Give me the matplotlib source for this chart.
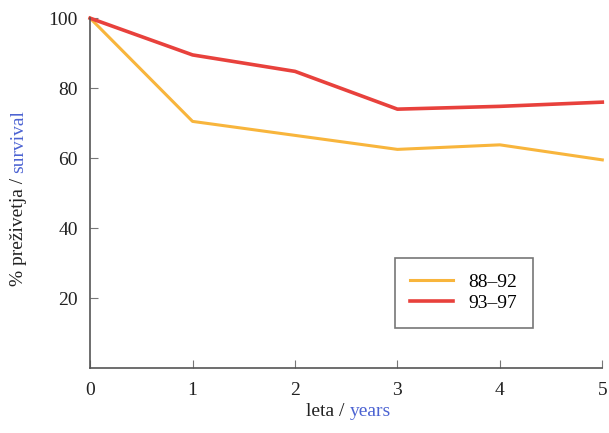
import matplotlib.pyplot as plt

plt.rcParams['font.family'] = ['Liberation Serif', 'DejaVu Serif']

leta = [0, 1, 2, 3, 4, 5]
s88_92 = [100, 70.5, 66.5, 62.5, 63.8, 59.5]
s93_97 = [100, 89.5, 84.8, 74, 74.8, 76]
serije = ['88\u201392', '93\u201397']

oranzna = '#F8B53C'
rdeca = '#E8413C'
modra = '#4C63D2'

fig = plt.figure(figsize=(6.09, 4.33), dpi=100)
ax = fig.add_axes([0.148, 0.150, 0.841, 0.808])

ax.plot(leta, s88_92, color=oranzna, lw=2.2, label=serije[0], clip_on=False)
ax.plot(leta, s93_97, color=rdeca, lw=2.6, label=serije[1], clip_on=False)

ax.set_xlim(0, 5)
ax.set_ylim(0, 100)
ax.set_xticks(leta)
ax.set_yticks([20, 40, 60, 80, 100])
ax.spines['top'].set_visible(False)
ax.spines['right'].set_visible(False)
for s in ['left', 'bottom']:
    ax.spines[s].set_color('#555555')
    ax.spines[s].set_linewidth(1.2)
ax.tick_params(direction='in', length=6, color='#777777', labelsize=14, labelcolor='#222222')
ax.tick_params(axis='y', pad=9)
ax.tick_params(axis='x', pad=10)

leg = ax.legend(loc='lower right', bbox_to_anchor=(0.865, 0.115), fontsize=14,
                fancybox=False, edgecolor='#555555', handlelength=2.2,
                borderpad=0.8, labelspacing=0.2, borderaxespad=0)
leg.get_frame().set_linewidth(1.2)

# dvobarvni napisi osi
t1 = fig.text(0.03, 0.34, '% preživetja / ', rotation=90, fontsize=14,
              color='#222222', ha='center', va='bottom')
ax.annotate('survival', xy=(0.5, 1), xycoords=t1, rotation=90, fontsize=14,
            color=modra, ha='center', va='bottom')

t2 = fig.text(0.503, 0.03, 'leta / ', fontsize=14, color='#222222',
              ha='left', va='bottom')
ax.annotate('years', xy=(1, 0), xycoords=t2, fontsize=14, color=modra,
            ha='left', va='bottom')

fig.savefig('out.png', dpi=100)
